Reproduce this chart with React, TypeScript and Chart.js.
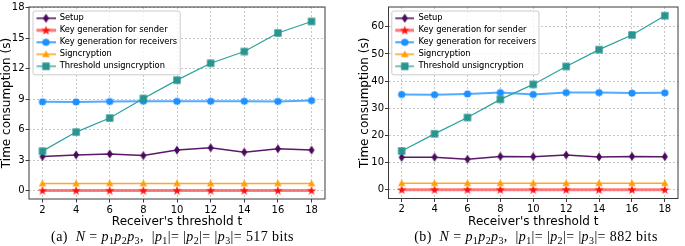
import React, { useEffect, useRef } from 'react';
import { Chart, registerables } from 'chart.js';

Chart.register(...registerables);

// ---------- data ----------
const thresholds = [2, 4, 6, 8, 10, 12, 14, 16, 18];
const xTicks = [2, 4, 6, 8, 10, 12, 14, 16, 18];
const yTicksA = [0, 3, 6, 9, 12, 15, 18];
const yTicksB = [0, 10, 20, 30, 40, 50, 60];
const seriesNames = [
  'Setup',
  'Key generation for sender',
  'Key generation for receivers',
  'Signcryption',
  'Threshold unsigncryption',
];

const setupA = [3.37, 3.53, 3.62, 3.46, 4.0, 4.23, 3.8, 4.13, 4.0];
const senderA = [0.03, 0.03, 0.03, 0.03, 0.03, 0.03, 0.03, 0.03, 0.03];
const receiversA = [8.74, 8.73, 8.77, 8.8, 8.79, 8.8, 8.8, 8.78, 8.87];
const signA = [0.72, 0.72, 0.73, 0.72, 0.73, 0.72, 0.72, 0.73, 0.72];
const unsignA = [3.9, 5.77, 7.15, 9.07, 10.87, 12.53, 13.68, 15.5, 16.63];

const setupB = [11.96, 12.0, 11.25, 12.3, 12.2, 12.8, 12.1, 12.3, 12.2];
const senderB = [0.05, 0.05, 0.05, 0.05, 0.05, 0.05, 0.05, 0.05, 0.05];
const receiversB = [35.1, 35.0, 35.3, 35.8, 35.1, 35.8, 35.8, 35.6, 35.7];
const signB = [2.4, 2.4, 2.4, 2.4, 2.4, 2.4, 2.4, 2.4, 2.4];
const unsignB = [14.3, 20.6, 26.6, 33.3, 38.8, 45.4, 51.6, 57.0, 64.1];

// ---------- styles ----------
const lineColors = ['#5a1868', 'rgba(255,70,70,0.7)', 'rgba(40,150,255,0.8)', '#ffa726', '#2aa39c'];
const markerColors = ['#4b0a5c', '#ff1010', '#1e90ff', '#ff9f00', '#2a9590'];
const markerKinds = ['diamond', 'star', 'circle', 'triangle', 'rect'];
const lineWidths = [1.5, 3, 2, 1.5, 1.2];

const FONT = '"DejaVu Sans", sans-serif';
const LEG_FS = 8.3;
const LEG_PAD = 3.7;

function drawMarker(ctx: CanvasRenderingContext2D, kind: string, cx: number, cy: number, color: string) {
  ctx.fillStyle = color;
  ctx.beginPath();
  if (kind === 'diamond') {
    ctx.moveTo(cx, cy - 4.6);
    ctx.lineTo(cx + 3, cy);
    ctx.lineTo(cx, cy + 4.6);
    ctx.lineTo(cx - 3, cy);
  } else if (kind === 'star') {
    for (let k = 0; k < 10; k++) {
      const r = k % 2 ? 1.9 : 4.8;
      const a = -Math.PI / 2 + (k * Math.PI) / 5;
      const px = cx + r * Math.cos(a);
      const py = cy + 0.3 + r * Math.sin(a);
      if (k === 0) ctx.moveTo(px, py);
      else ctx.lineTo(px, py);
    }
  } else if (kind === 'circle') {
    ctx.arc(cx, cy, 3.6, 0, Math.PI * 2);
  } else if (kind === 'triangle') {
    const r = 4.3;
    for (let k = 0; k < 3; k++) {
      const a = -Math.PI / 2 + (k * 2 * Math.PI) / 3;
      const px = cx + r * Math.cos(a);
      const py = cy + 0.6 + r * Math.sin(a);
      if (k === 0) ctx.moveTo(px, py);
      else ctx.lineTo(px, py);
    }
  } else {
    ctx.rect(cx - 3.7, cy - 3.7, 7.4, 7.4);
  }
  ctx.closePath();
  ctx.fill();
}

function markerImage(i: number): HTMLCanvasElement {
  const c = document.createElement('canvas');
  c.width = 12;
  c.height = 12;
  const ctx = c.getContext('2d')!;
  drawMarker(ctx, markerKinds[i], 6, 6, markerColors[i]);
  return c;
}

function legendImage(i: number): HTMLCanvasElement {
  const c = document.createElement('canvas');
  c.width = 20;
  c.height = 12;
  const ctx = c.getContext('2d')!;
  ctx.strokeStyle = lineColors[i];
  ctx.lineWidth = lineWidths[i];
  ctx.beginPath();
  ctx.moveTo(1, 6);
  ctx.lineTo(20, 6);
  ctx.stroke();
  drawMarker(ctx, markerKinds[i], 10.5, 6, markerColors[i]);
  return c;
}

interface Geo {
  padLeft: number;
  padRight: number;
  padTop: number;
  yWidth: number;
  xHeight: number;
  legDx: number;
  legDy: number;
}

function makeChart(
  canvas: HTMLCanvasElement,
  series: number[][],
  yMin: number,
  yMax: number,
  yTicks: number[],
  geo: Geo
) {
  const markers = series.map((_, i) => markerImage(i));
  const legImgs = series.map((_, i) => legendImage(i));

  const framePlugin = {
    id: 'frameLegend',
    afterLayout(chart: any) {
      const a = chart.chartArea;
      const lg = chart.legend;
      if (!lg) return;
      lg.left = a.left + geo.legDx;
      lg.top = a.top + geo.legDy;
      lg.right = a.right;
      lg.bottom = a.bottom;
      lg.width = lg.right - lg.left;
      lg.height = lg.bottom - lg.top;
    },
    afterDraw(chart: any) {
      const ctx = chart.ctx as CanvasRenderingContext2D;
      const a = chart.chartArea;
      ctx.save();
      ctx.strokeStyle = '#3a3a3a';
      ctx.lineWidth = 1;
      ctx.strokeRect(a.left, a.top, a.right - a.left, a.bottom - a.top);
      const lg = chart.legend;
      const ix = lg.left + LEG_PAD;
      const fy = lg.top + LEG_PAD + LEG_FS / 2;
      ctx.font = `${LEG_FS}px ${FONT}`;
      const maxW = Math.max(...seriesNames.map((n) => ctx.measureText(n).width));
      const bx = ix - 2.5;
      const by = fy - 7.3;
      const bw = ix + 20 + LEG_FS / 2 + maxW + 3 - bx;
      const bh = 4 * (LEG_FS + LEG_PAD) + 7.3 + 8.5;
      ctx.beginPath();
      (ctx as any).roundRect(bx, by, bw, bh, 2);
      ctx.fillStyle = 'rgba(255,255,255,0.8)';
      ctx.fill();
      ctx.strokeStyle = '#cccccc';
      ctx.lineWidth = 1;
      ctx.stroke();
      ctx.restore();
      lg.draw();
    },
  };

  const datasets = series.map((arr, i) => ({
    label: seriesNames[i],
    data: thresholds.map((t, j) => ({ x: t, y: arr[j] })),
    borderColor: lineColors[i],
    backgroundColor: markerColors[i],
    borderWidth: lineWidths[i],
    pointStyle: markers[i],
    pointRadius: 4,
    pointHoverRadius: 4,
    tension: 0,
    fill: false,
    order: series.length - i,
  }));

  const gridCommon = {
    color: 'rgba(160,160,160,0.75)',
    lineWidth: 0.8,
    tickLength: 3.5,
    tickColor: '#3a3a3a',
    tickWidth: 1,
    tickBorderDash: [],
  };

  return new Chart(canvas, {
    type: 'line',
    data: { datasets: datasets as any },
    plugins: [framePlugin as any],
    options: {
      animation: false,
      responsive: false,
      devicePixelRatio: 1,
      events: [],
      layout: {
        padding: { left: geo.padLeft, right: geo.padRight, top: geo.padTop, bottom: 0 },
      },
      scales: {
        x: {
          type: 'linear',
          min: 1.2,
          max: 18.8,
          afterBuildTicks: (s: any) => {
            s.ticks = xTicks.map((v) => ({ value: v }));
          },
          afterFit: (s: any) => {
            s.height = geo.xHeight;
          },
          grid: gridCommon as any,
          border: { display: false, dash: [2, 2] },
          ticks: { color: '#000', font: { family: FONT, size: 10 }, padding: 1.5, maxRotation: 0 },
          title: {
            display: true,
            text: "Receiver's threshold t",
            color: '#000',
            font: { family: FONT, size: 12 },
            padding: { top: 0, bottom: 0.6 },
          },
        },
        y: {
          type: 'linear',
          min: yMin,
          max: yMax,
          afterBuildTicks: (s: any) => {
            s.ticks = yTicks.map((v) => ({ value: v }));
          },
          afterFit: (s: any) => {
            s.width = geo.yWidth;
          },
          grid: gridCommon as any,
          border: { display: false, dash: [2, 2] },
          ticks: { color: '#000', font: { family: FONT, size: 10 }, padding: 1 },
          title: {
            display: true,
            text: 'Time consumption (s)',
            color: '#000',
            font: { family: FONT, size: 12 },
            padding: { top: 0, bottom: 0 },
          },
        },
      },
      plugins: {
        tooltip: { enabled: false },
        title: { display: false },
        legend: {
          display: true,
          position: 'chartArea' as any,
          align: 'start',
          labels: {
            usePointStyle: true,
            pointStyleWidth: 20,
            padding: LEG_PAD,
            color: '#000',
            font: { family: FONT, size: LEG_FS },
            generateLabels: () =>
              seriesNames.map((n, i) => ({
                text: n,
                pointStyle: legImgs[i],
                fillStyle: 'transparent',
                strokeStyle: 'transparent',
                lineWidth: 0,
                hidden: false,
                datasetIndex: i,
                fontColor: '#000',
              })) as any,
          },
        },
      },
    } as any,
  });
}

const captionStyle: React.CSSProperties = {
  position: 'absolute',
  top: 229,
  height: 17,
  lineHeight: '16px',
  textAlign: 'center',
  font: '14px "Liberation Serif", serif',
  letterSpacing: '0.4px',
  color: '#000',
  whiteSpace: 'nowrap',
};
const subStyle: React.CSSProperties = { fontSize: '10px', verticalAlign: '-3px', lineHeight: 0 };

function Caption({ tag, bits }: { tag: string; bits: string }) {
  return (
    <>
      ({tag})&nbsp;&nbsp;<i>N</i> = <i>p</i>
      <sub style={subStyle}>1</sub>
      <i>p</i>
      <sub style={subStyle}>2</sub>
      <i>p</i>
      <sub style={subStyle}>3</sub>,&nbsp;&nbsp;|<i>p</i>
      <sub style={subStyle}>1</sub>|= |<i>p</i>
      <sub style={subStyle}>2</sub>|= |<i>p</i>
      <sub style={subStyle}>3</sub>|= {bits} bits
    </>
  );
}

export default function App() {
  const refA = useRef<HTMLCanvasElement>(null);
  const refB = useRef<HTMLCanvasElement>(null);

  useEffect(() => {
    const a = makeChart(refA.current!, [setupA, senderA, receiversA, signA, unsignA], -0.8, 18.05, yTicksA, {
      padLeft: 0,
      padRight: 20,
      padTop: 3,
      yWidth: 29,
      xHeight: 31,
      legDx: 2.8,
      legDy: 3.45,
    });
    const b = makeChart(refB.current!, [setupB, senderB, receiversB, signB, unsignB], -3.2, 67.3, yTicksB, {
      padLeft: 13,
      padRight: 2,
      padTop: 2,
      yWidth: 30.5,
      xHeight: 31.5,
      legDx: 2.1,
      legDy: 3.45,
    });
    return () => {
      a.destroy();
      b.destroy();
    };
  }, []);

  return (
    <div
      style={{
        position: 'absolute',
        left: 0,
        top: 0,
        width: 685,
        height: 246,
        overflow: 'hidden',
        background: '#fff',
      }}
    >
      <canvas
        ref={refA}
        width={345}
        height={230}
        style={{ position: 'absolute', left: 0, top: 0, width: 345, height: 230 }}
      />
      <canvas
        ref={refB}
        width={340}
        height={230}
        style={{ position: 'absolute', left: 345, top: 0, width: 340, height: 230 }}
      />
      <div style={{ ...captionStyle, left: 22, width: 301 }}>
        <Caption tag="a" bits="517" />
      </div>
      <div style={{ ...captionStyle, left: 391, width: 290 }}>
        <Caption tag="b" bits="882" />
      </div>
    </div>
  );
}
